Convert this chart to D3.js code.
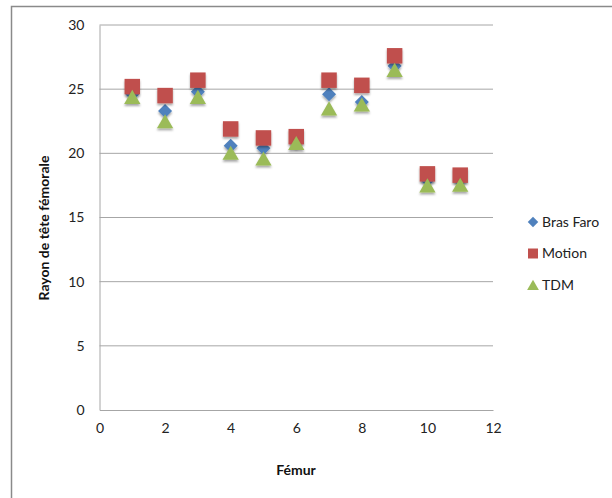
<!DOCTYPE html>
<html>
<head>
<meta charset="utf-8">
<script src="https://cdn.jsdelivr.net/npm/d3@7"></script>
<style>
  body { margin: 0; background: #fff; }
  svg { font-family: Lato, "Open Sans", sans-serif; }
</style>
</head>
<body>
<svg id="chart" width="612" height="498"></svg>
<script>
// values
var femur = [1, 2, 3, 4, 5, 6, 7, 8, 9, 10, 11];
var brasFaro = [24.6, 23.3, 24.8, 20.6, 20.4, 20.9, 24.6, 24.0, 26.8, 17.9, 17.9];
var motion = [25.2, 24.5, 25.7, 21.9, 21.2, 21.3, 25.7, 25.3, 27.6, 18.4, 18.3];
var tdm = [24.4, 22.5, 24.4, 20.05, 19.6, 20.8, 23.5, 23.8, 26.5, 17.5, 17.55];
var xTicks = [0, 2, 4, 6, 8, 10, 12];
var yTicks = [0, 5, 10, 15, 20, 25, 30];
var seriesNames = ["Bras Faro", "Motion", "TDM"];
var seriesColors = ["#4F81BD", "#C0504D", "#9BBB59"];

var svg = d3.select("#chart");

// outer frame (only top and left edges visible)
svg.append("path")
    .attr("d", "M11.5,498 V6.5 H612")
    .attr("fill", "none")
    .attr("stroke", "#8a8a8a")
    .attr("stroke-width", 1.5);

var x = d3.scaleLinear().domain([0, 12]).range([99.5, 493]);
var y = d3.scaleLinear().domain([0, 30]).range([410, 25]);

// gridlines
svg.append("g")
    .selectAll("line")
    .data(yTicks.slice(1))
    .enter()
    .append("line")
    .attr("x1", x(0))
    .attr("x2", x(12))
    .attr("y1", function(d) { return y(d); })
    .attr("y2", function(d) { return y(d); })
    .attr("stroke", "#a6a6a6")
    .attr("stroke-width", 1);

var xAxis = svg.append("g")
    .attr("transform", "translate(0," + y(0) + ")")
    .call(d3.axisBottom(x).tickValues(xTicks).tickSize(0).tickPadding(13));
xAxis.select(".domain").attr("stroke", "#a6a6a6");

var yAxis = svg.append("g")
    .attr("transform", "translate(" + x(0) + ",0)")
    .call(d3.axisLeft(y).tickValues(yTicks).tickSize(0).tickPadding(15));
yAxis.select(".domain").attr("stroke", "#a6a6a6");

svg.selectAll(".tick text")
    .attr("font-size", 14)
    .attr("font-family", "Lato, Open Sans, sans-serif")
    .attr("fill", "#222");

// axis titles
svg.append("text")
    .attr("x", 296)
    .attr("y", 475)
    .attr("text-anchor", "middle")
    .attr("font-size", 14)
    .attr("font-weight", "bold")
    .attr("fill", "#111")
    .text("Fémur");

svg.append("text")
    .attr("transform", "translate(49,228) rotate(-90)")
    .attr("text-anchor", "middle")
    .attr("font-size", 14)
    .attr("font-weight", "bold")
    .attr("fill", "#111")
    .text("Rayon de tête fémorale");

// marker shapes
var symbols = [
    d3.symbol().type(d3.symbolDiamond2).size(125),
    d3.symbol().type(d3.symbolSquare).size(240),
    d3.symbol().type(d3.symbolTriangle).size(115)
];
// triangle centroid sits below its box centre
var yShift = [0, 0, Math.sqrt(115 / (Math.sqrt(3) * 3)) / 2];

var shadow = svg.append("defs").append("filter")
    .attr("id", "shadow")
    .attr("x", "-50%").attr("y", "-50%")
    .attr("width", "200%").attr("height", "200%");
shadow.append("feDropShadow")
    .attr("dx", 0).attr("dy", 2)
    .attr("stdDeviation", 1.2)
    .attr("flood-color", "#000")
    .attr("flood-opacity", 0.35);

var allSeries = [brasFaro, motion, tdm];

allSeries.forEach(function(vals, s) {
    svg.append("g")
        .selectAll("path")
        .data(vals)
        .enter()
        .append("path")
        .attr("d", symbols[s])
        .attr("transform", function(d, i) {
            return "translate(" + x(femur[i]) + "," + (y(d) + yShift[s]) + ")";
        })
        .attr("fill", seriesColors[s])
        .attr("filter", "url(#shadow)");
});

// legend
var legend = svg.append("g");
seriesNames.forEach(function(name, i) {
    var ly = 222 + i * 31.5;
    legend.append("path")
        .attr("d", d3.symbol().type([d3.symbolDiamond2, d3.symbolSquare, d3.symbolTriangle][i]).size([70, 100, 60][i]))
        .attr("transform", "translate(533," + (ly + (i == 2 ? 1.5 : 0)) + ")")
        .attr("fill", seriesColors[i]);
    legend.append("text")
        .attr("x", 542)
        .attr("y", ly)
        .attr("dy", "0.35em")
        .attr("font-size", 14)
        .attr("fill", "#222")
        .text(name);
});
</script>
</body>
</html>
